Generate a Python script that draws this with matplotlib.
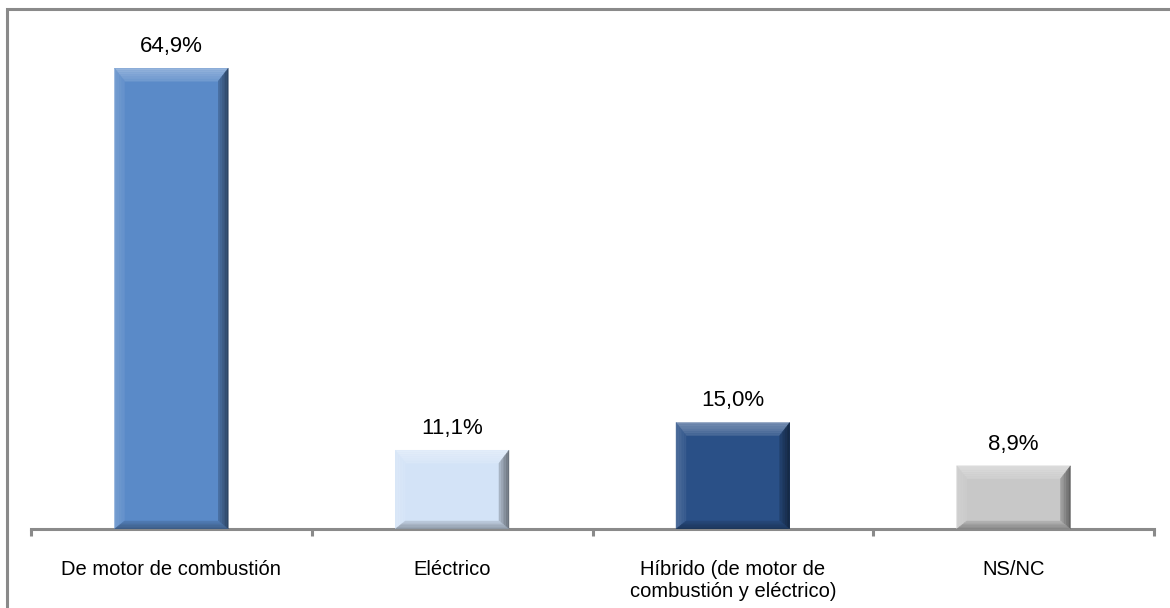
import matplotlib
matplotlib.use("Agg")
import matplotlib.pyplot as plt
from matplotlib.patches import Polygon, Rectangle
import matplotlib.colors as mcolors
import numpy as np

categories = ["De motor de combustión", "Eléctrico",
              "Híbrido (de motor de\ncombustión y eléctrico)", "NS/NC"]
values = [64.9, 11.1, 15.0, 8.9]
value_labels = ["64,9%", "11,1%", "15,0%", "8,9%"]
bar_colors = ["#5A8AC8", "#D3E3F7", "#2A5087", "#C8C8C8"]

plt.rcParams['font.family'] = ['Liberation Sans', 'DejaVu Sans']

W, H = 1170, 608
fig = plt.figure(figsize=(W / 100, H / 100), dpi=100)
ax = fig.add_axes([31 / W, 79 / H, (1154 - 31) / W, (529 - 8) / H])

x = np.arange(len(categories))
bars = ax.bar(x, values, width=0.405, color=bar_colors, zorder=2)
ax.set_xlim(-0.5, len(categories) - 0.5)
ax.set_ylim(0, (529 - 8) / 7.1)

for s in ["top", "right", "left"]:
    ax.spines[s].set_visible(False)
ax.spines["bottom"].set_color("#8a8a8a")
ax.spines["bottom"].set_linewidth(2.2)
ax.set_yticks([])
ax.set_xticks(x)
ax.set_xticklabels(categories, fontsize=14.5, color="black", linespacing=1.25)
ax.tick_params(axis="x", which="major", length=0, pad=22)
ax.set_xticks(np.arange(len(categories) + 1) - 0.5, minor=True)
ax.tick_params(axis="x", which="minor", length=5, width=2.2, color="#8a8a8a", direction="out")

# bevel decoration derived from the bar patches
fig.canvas.draw()
inv = ax.transData.inverted()
def px2data(dx, dy):
    p0 = inv.transform((0, 0))
    p1 = inv.transform((dx, dy))
    return p1[0] - p0[0], p1[1] - p0[1]

nsteps = 6
for b, c in zip(bars, bar_colors):
    x0, y0 = b.get_x(), b.get_y()
    w, h = b.get_width(), b.get_height()
    x1, y1 = x0 + w, y0 + h
    base = np.array(mcolors.to_rgb(c))
    for k in range(nsteps):
        t_out = k / nsteps
        t_in = (k + 1) / nsteps
        bxo, byo = px2data(10 * t_out, 13 * t_out)
        bxi, byi = px2data(10 * t_in, 13 * t_in)
        _, byo_b = px2data(0, 8 * t_out)
        _, byi_b = px2data(0, 8 * t_in)
        f = 1 - k / nsteps  # strength toward outer edge
        light = base + (1 - base) * (0.10 + 0.25 * f)
        lighter = base + (1 - base) * (0.05 + 0.12 * f)
        dark = base * (0.85 - 0.35 * f)
        darker = base * (0.92 - 0.25 * f)
        top = Polygon([(x0 + bxo, y1 - byo), (x1 - bxo, y1 - byo),
                       (x1 - bxi, y1 - byi), (x0 + bxi, y1 - byi)],
                      closed=True, facecolor=light, edgecolor=light, lw=0.3, zorder=3)
        left = Polygon([(x0 + bxo, y0 + byo_b), (x0 + bxo, y1 - byo),
                        (x0 + bxi, y1 - byi), (x0 + bxi, y0 + byi_b)],
                       closed=True, facecolor=lighter, edgecolor=lighter, lw=0.3, zorder=3)
        right = Polygon([(x1 - bxo, y0 + byo_b), (x1 - bxo, y1 - byo),
                         (x1 - bxi, y1 - byi), (x1 - bxi, y0 + byi_b)],
                        closed=True, facecolor=dark, edgecolor=dark, lw=0.3, zorder=3)
        bottom = Polygon([(x0 + bxo, y0 + byo_b), (x1 - bxo, y0 + byo_b),
                          (x1 - bxi, y0 + byi_b), (x0 + bxi, y0 + byi_b)],
                         closed=True, facecolor=darker, edgecolor=darker, lw=0.3, zorder=3)
        for p in (top, left, right, bottom):
            ax.add_patch(p)

for b, lab in zip(bars, value_labels):
    ax.annotate(lab, (b.get_x() + b.get_width() / 2, b.get_height()),
                xytext=(0, 8), textcoords="offset points", ha="center", va="bottom",
                fontsize=16, color="black")

# outer border (left and top visible)
fig.add_artist(Rectangle((7 / W, -0.1), 1.2, 1 + 0.1 - 9 / H, transform=fig.transFigure,
                         fill=False, edgecolor="#8a8a8a", linewidth=2.2))

fig.savefig("out.png", dpi=100)
